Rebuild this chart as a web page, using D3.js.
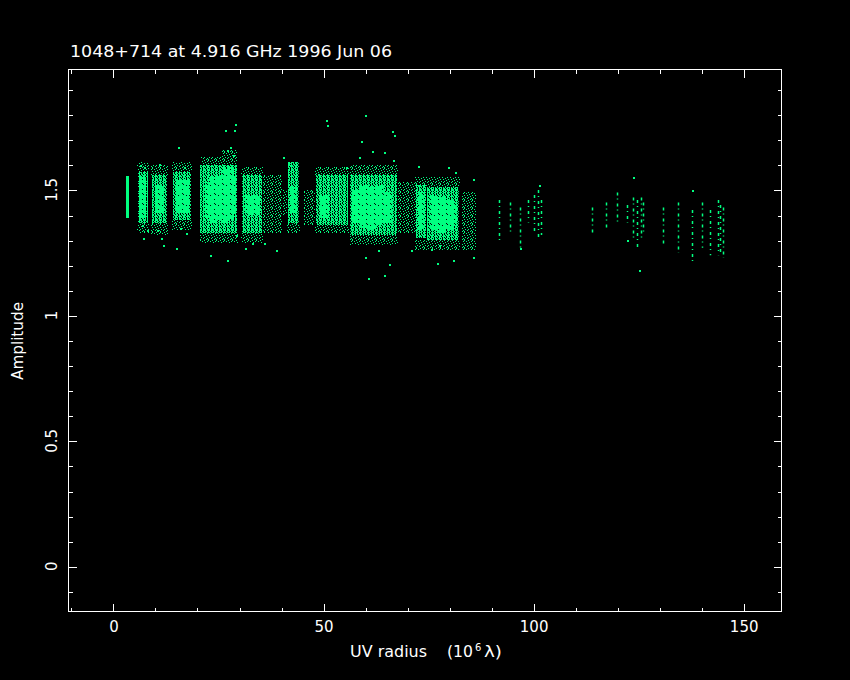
<!DOCTYPE html>
<html><head><meta charset="utf-8">
<script src="https://cdn.jsdelivr.net/npm/d3@7/dist/d3.min.js"></script>
<style>html,body{margin:0;background:#000;}svg{display:block}</style>
</head><body>
<svg id="c" width="850" height="680"></svg>
<script>
// ---------- data ----------
const titleText = "1048+714 at 4.916 GHz 1996 Jun 06";
const xLabel = "UV radius";
const xUnitOpen = "(10";
const xUnitExp = "6";
const xUnitClose = "λ)";
const yLabel = "Amplitude";
const xMajorTicks = [0, 50, 100, 150];
const xMinorTicks = [-10, 10, 20, 30, 40, 60, 70, 80, 90, 110, 120, 130, 140];
const yMajorTicks = [0, 0.5, 1, 1.5];
const yMinorTicks = [-0.1, 0.1, 0.2, 0.3, 0.4, 0.6, 0.7, 0.8, 0.9, 1.1, 1.2, 1.3, 1.4, 1.6, 1.7, 1.8, 1.9];

// populated regions of the uv-plane: [uvStart, uvEnd, ampLow, ampHigh, density]
const fringeBands = [
  [5.8, 8.5, 1.33, 1.37, "sparse"], [5.8, 8.5, 1.57, 1.61, "sparse"],
  [9.0, 13.0, 1.32, 1.37, "sparse"], [9.0, 13.0, 1.56, 1.60, "sparse"],
  [14.0, 18.8, 1.34, 1.38, "sparse"], [14.0, 18.8, 1.57, 1.61, "sparse"],
  [20.6, 29.8, 1.29, 1.33, "sparse"], [21.0, 26.0, 1.60, 1.63, "sparse"],
  [30.4, 35.6, 1.29, 1.33, "sparse"], [30.4, 35.6, 1.56, 1.59, "sparse"],
  [41.4, 44.4, 1.33, 1.37, "sparse"],
  [48.2, 56.2, 1.33, 1.36, "sparse"], [48.2, 56.2, 1.56, 1.59, "sparse"],
  [56.3, 67.8, 1.28, 1.32, "sparse"], [56.3, 67.8, 1.56, 1.60, "sparse"],
  [72.0, 82.5, 1.26, 1.30, "sparse"], [72.0, 82.5, 1.51, 1.55, "sparse"]
];
const haloBands = [
  [6.0, 8.3, 1.37, 1.57, "medium"],
  [9.2, 12.9, 1.37, 1.56, "medium"],
  [14.2, 18.6, 1.38, 1.57, "medium"],
  [20.8, 29.6, 1.33, 1.60, "medium"],
  [26.0, 29.6, 1.58, 1.66, "sparse"],
  [30.6, 35.4, 1.33, 1.56, "medium"],
  [35.6, 40.2, 1.33, 1.56, "sparse"],
  [40.4, 41.4, 1.40, 1.50, "sparse"],
  [41.6, 44.2, 1.37, 1.61, "medium"],
  [45.5, 48.2, 1.36, 1.50, "sparse"],
  [48.4, 56.0, 1.36, 1.56, "medium"],
  [56.5, 67.6, 1.32, 1.56, "medium"],
  [67.8, 72.2, 1.33, 1.53, "sparse"],
  [72.2, 74.4, 1.31, 1.52, "medium"],
  [74.8, 82.3, 1.30, 1.51, "medium"],
  [83.0, 86.3, 1.26, 1.49, "sparse"]
];
const coreBands = [
  [3.2, 3.8, 1.39, 1.555, "solid"],
  [6.3, 7.9, 1.39, 1.55, "dense"],
  [10.2, 12.0, 1.41, 1.52, "dense"],
  [15.0, 18.0, 1.41, 1.54, "dense"],
  [21.8, 23.0, 1.39, 1.53, "dense"], [23.0, 24.5, 1.37, 1.55, "dense"], [24.5, 26.0, 1.38, 1.56, "dense"],
  [26.0, 27.5, 1.37, 1.58, "dense"], [27.5, 28.8, 1.38, 1.59, "dense"], [28.8, 29.4, 1.41, 1.56, "dense"],
  [31.4, 34.8, 1.40, 1.48, "dense"],
  [42.2, 43.8, 1.41, 1.51, "dense"],
  [49.2, 51.4, 1.39, 1.48, "dense"],
  [57.0, 58.6, 1.37, 1.50, "dense"], [58.6, 60.6, 1.35, 1.52, "dense"], [60.6, 62.6, 1.34, 1.51, "dense"],
  [62.6, 64.6, 1.36, 1.52, "dense"], [64.6, 66.4, 1.37, 1.49, "dense"],
  [72.6, 74.0, 1.34, 1.49, "dense"],
  [75.4, 77.2, 1.34, 1.48, "dense"], [77.2, 79.2, 1.33, 1.47, "dense"], [79.2, 81.2, 1.34, 1.46, "dense"],
  [81.2, 82.0, 1.36, 1.45, "dense"]
];
// isolated sparse streaks: [uv, ampLow, ampHigh]
const tracks = [
  [92.0, 1.30, 1.46], [94.6, 1.33, 1.45], [96.8, 1.27, 1.43], [98.7, 1.37, 1.46],
  [100.3, 1.33, 1.48], [101.2, 1.31, 1.50], [101.9, 1.32, 1.46],
  [113.9, 1.33, 1.43], [117.3, 1.34, 1.45], [119.9, 1.36, 1.49], [122.3, 1.37, 1.44],
  [123.8, 1.30, 1.47], [124.7, 1.27, 1.46], [125.6, 1.30, 1.47], [126.2, 1.33, 1.45],
  [131.0, 1.28, 1.43], [134.6, 1.25, 1.45], [137.7, 1.21, 1.42], [140.3, 1.27, 1.45],
  [142.2, 1.24, 1.42], [143.9, 1.24, 1.46], [144.6, 1.25, 1.44], [145.2, 1.23, 1.43]
];
// scattered single visibilities: [uv, amp]
const outliers = [
  [6.5, 1.60], [7.5, 1.59], [7.0, 1.36], [8.0, 1.34], [7.2, 1.31],
  [11.0, 1.605], [10.5, 1.34], [11.5, 1.31], [12.0, 1.28],
  [15.5, 1.67], [17.0, 1.59], [16.0, 1.35], [17.5, 1.33], [15.0, 1.27],
  [26.6, 1.737], [29.0, 1.763], [28.8, 1.74], [27.9, 1.67], [27.1, 1.66], [28.5, 1.64],
  [23.0, 1.24], [27.2, 1.22], [29.4, 1.32],
  [41.7, 1.607], [42.2, 1.60], [48.7, 1.562], [50.8, 1.777], [51.0, 1.76],
  [31.4, 1.268], [33.0, 1.29], [38.9, 1.259], [36.0, 1.29], [40.5, 1.63],
  [59.9, 1.80], [66.4, 1.733], [66.8, 1.72], [59.0, 1.697], [61.7, 1.657], [64.5, 1.65],
  [58.5, 1.631], [66.6, 1.62], [72.6, 1.595], [55.5, 1.59],
  [59.9, 1.232], [65.6, 1.206], [64.6, 1.162], [60.6, 1.149], [63.0, 1.26], [71.0, 1.26], [77.1, 1.21],
  [79.8, 1.591], [81.4, 1.571], [85.7, 1.545], [75.8, 1.266], [77.5, 1.28], [81.0, 1.219],
  [85.7, 1.232], [96.8, 1.268],
  [123.8, 1.551], [125.2, 1.18], [137.7, 1.498], [122.3, 1.30], [101.5, 1.52]
];

// ---------- drawing ----------
const W = 850, H = 680;
const box = {left: 68, right: 781, top: 69, bottom: 611};
const green = "#00ff80";
const svg = d3.select("#c");
svg.append("rect").attr("width", W).attr("height", H).attr("fill", "#000");

const x = d3.scaleLinear().domain([-10.7, 159.0]).range([box.left, box.right]);
const y = d3.scaleLinear().domain([-0.178, 1.982]).range([box.bottom, box.top]);

// speckle textures with a vertical-streak grain (style only)
const tiles = {
  solid: ["#"],
  dense: ["###.####", "##.###.#", "#.######", "###.##.#", "#######.", "##.###.#", ".####.##", "###.####",
          "#.##.###", "####.#.#"],
  medium: ["##.###.#", "#.##.##.", "##.###.#", "#.##.#.#", "##.#.##.", "##.##.##", "#.####.#", "##.#.#.#",
           ".#.##.##", "##.###.#"],
  sparse: ["#...#...", "..#....#", ".....#..", "#..#....", "......#.", ".#..#...", "...#...#", "#.....#."]
};
const defs = svg.append("defs");
Object.entries(tiles).forEach(([name, rows]) => {
  const p = defs.append("pattern").attr("id", "pat-" + name)
    .attr("patternUnits", "userSpaceOnUse").attr("width", rows[0].length).attr("height", rows.length);
  rows.forEach((row, j) => row.split("").forEach((c, i) => {
    if (c === "#") p.append("rect").attr("x", i).attr("y", j).attr("width", 1).attr("height", 1)
      .attr("fill", green).attr("shape-rendering", "crispEdges");
  }));
});
defs.append("clipPath").attr("id", "clip").append("rect")
  .attr("x", box.left).attr("y", box.top).attr("width", box.right - box.left).attr("height", box.bottom - box.top);

const plot = svg.append("g").attr("clip-path", "url(#clip)");
const bandRect = sel => sel
  .attr("x", d => Math.round(x(d[0]))).attr("width", d => Math.round(x(d[1])) - Math.round(x(d[0])))
  .attr("y", d => Math.round(y(d[3]))).attr("height", d => Math.round(y(d[2])) - Math.round(y(d[3])))
  .attr("fill", d => `url(#pat-${d[4]})`).attr("shape-rendering", "crispEdges");
plot.selectAll("rect.fringe").data(fringeBands).join("rect").attr("class", "fringe").call(bandRect);
plot.selectAll("rect.halo").data(haloBands).join("rect").attr("class", "halo").call(bandRect);
plot.selectAll("rect.core").data(coreBands).join("rect").attr("class", "core").call(bandRect);
plot.selectAll("line.track").data(tracks).join("line").attr("class", "track")
  .attr("x1", d => Math.round(x(d[0])) + 0.5).attr("x2", d => Math.round(x(d[0])) + 0.5)
  .attr("y1", d => y(d[2])).attr("y2", d => y(d[1]))
  .attr("stroke", green).attr("stroke-width", 1.5).attr("stroke-dasharray", "3,3,1,4");
plot.selectAll("rect.pt").data(outliers).join("rect").attr("class", "pt")
  .attr("x", d => Math.round(x(d[0]))).attr("y", d => Math.round(y(d[1])))
  .attr("width", 2).attr("height", 2).attr("fill", green).attr("shape-rendering", "crispEdges");

// frame & ticks
svg.append("rect").attr("x", box.left + 0.5).attr("y", box.top + 0.5)
  .attr("width", box.right - box.left).attr("height", box.bottom - box.top)
  .attr("fill", "none").attr("stroke", "#fff").attr("stroke-width", 1).attr("shape-rendering", "crispEdges");
const fmt = d => String(d);
function tickAxis(gen, vals, size, tx, ty, labels) {
  const g = svg.append("g").attr("transform", `translate(${tx},${ty})`)
    .call(gen.tickValues(vals).tickSize(-size).tickSizeOuter(0).tickPadding(10).tickFormat(labels ? fmt : () => ""));
  g.select(".domain").remove();
  g.selectAll("line").attr("stroke", "#fff").attr("shape-rendering", "crispEdges");
  return g;
}
const font = "DejaVu Sans";
const xb = tickAxis(d3.axisBottom(x), xMajorTicks, 8, 0.5, box.bottom + 0.5, true);
tickAxis(d3.axisBottom(x), xMinorTicks, 4, 0.5, box.bottom + 0.5, false);
tickAxis(d3.axisTop(x), xMajorTicks, 8, 0.5, box.top + 0.5, false);
tickAxis(d3.axisTop(x), xMinorTicks, 4, 0.5, box.top + 0.5, false);
tickAxis(d3.axisLeft(y), yMajorTicks, 8, box.left + 0.5, 0.5, false);
tickAxis(d3.axisLeft(y), yMinorTicks, 4, box.left + 0.5, 0.5, false);
tickAxis(d3.axisRight(y), yMajorTicks, 8, box.right + 0.5, 0.5, false);
tickAxis(d3.axisRight(y), yMinorTicks, 4, box.right + 0.5, 0.5, false);
xb.selectAll("text").attr("fill", "#fff").attr("font-family", font).attr("font-size", 15);

svg.selectAll("text.ylab").data(yMajorTicks).join("text").attr("class", "ylab")
  .attr("transform", d => `translate(57,${y(d)}) rotate(-90)`)
  .attr("text-anchor", "middle").attr("fill", "#fff")
  .attr("font-family", font).attr("font-size", 15).text(fmt);

const label = (xx, yy, txt, size, len) => {
  const t = svg.append("text").attr("x", xx).attr("y", yy).attr("fill", "#fff")
    .attr("font-family", font).attr("font-size", size).text(txt);
  if (len) t.attr("textLength", len).attr("lengthAdjust", "spacingAndGlyphs");
  return t;
};
label(70, 56.5, titleText, 16, 322);
label(350, 657, xLabel, 15, 77);
label(447, 657, xUnitOpen, 15, 26);
label(475, 651, xUnitExp, 10, 0);
label(484, 657, xUnitClose, 15, 18);

svg.append("text").attr("transform", "translate(23,341) rotate(-90)")
  .attr("text-anchor", "middle").attr("fill", "#fff")
  .attr("font-family", font).attr("font-size", 15)
  .attr("textLength", 78).attr("lengthAdjust", "spacingAndGlyphs").text(yLabel);
</script>
</body></html>
